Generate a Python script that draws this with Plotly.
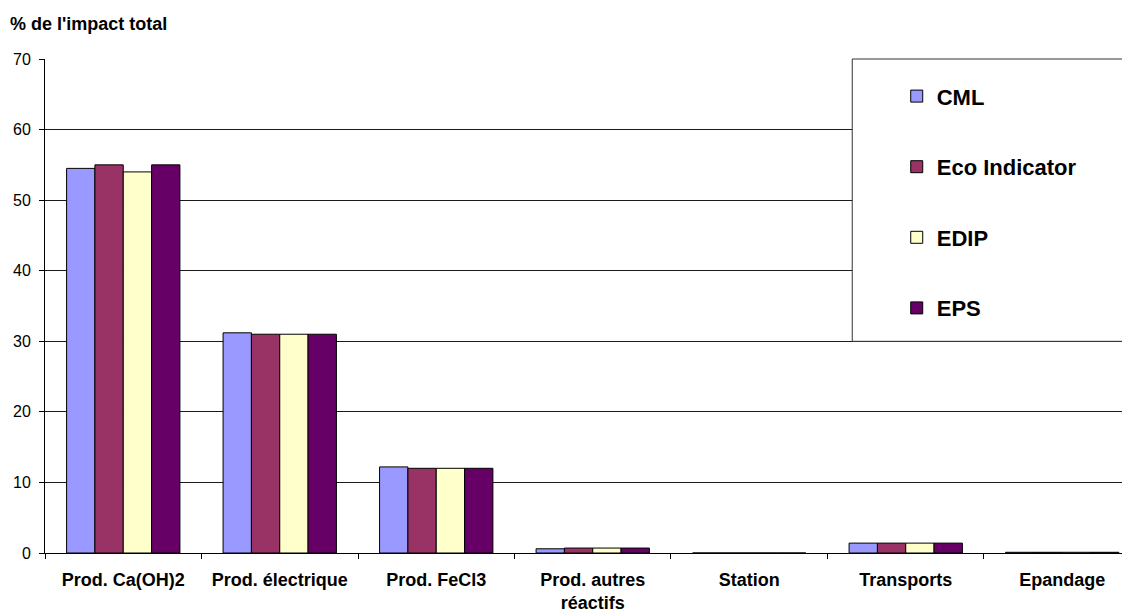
import plotly.graph_objects as go

categories = ["Prod. Ca(OH)2", "Prod. électrique", "Prod. FeCl3", "Prod. autres<br>réactifs",
              "Station", "Transports", "Epandage"]
series_names = ["CML", "Eco Indicator", "EDIP", "EPS"]
cml = [54.5, 31.2, 12.2, 0.6, 0.0, 1.4, 0.1]
eco = [55.0, 31.0, 12.0, 0.7, 0.0, 1.4, 0.1]
edip = [54.0, 31.0, 12.0, 0.7, 0.0, 1.4, 0.1]
eps = [55.0, 31.0, 12.0, 0.7, 0.0, 1.4, 0.1]
colors = ["#9999FF", "#993366", "#FFFFCC", "#660066"]
y_ticks = [0, 10, 20, 30, 40, 50, 60, 70]

FONT = "Liberation Sans, Arial, sans-serif"

fig = go.Figure()
for i, (name, vals) in enumerate(zip(series_names, [cml, eco, edip, eps])):
    fig.add_trace(go.Bar(
        x=categories, y=vals, name=name, legendgroup=name,
        marker=dict(color=colors[i], line=dict(color="#000000", width=1)),
    ))

# page body has an 8px margin: figure is sized/positioned to compensate
fig.update_layout(
    width=1122, height=604,
    margin=dict(l=37, r=0, t=51, b=59, autoexpand=False),
    paper_bgcolor="white", plot_bgcolor="white",
    font=dict(family=FONT, color="#000000"),
    barmode="group", bargap=0.276, bargroupgap=0,
    showlegend=True,
    legend=dict(x=0.785, y=0.967, xanchor="left", yanchor="top",
                bgcolor="rgba(0,0,0,0)", borderwidth=0,
                traceorder="grouped", tracegroupgap=39,
                font=dict(size=22, family=FONT, weight="bold")),
    xaxis=dict(
        range=[-0.5, 6.433], type="category",
        showline=True, linecolor="#000000", linewidth=1,
        ticks="outside", tickson="boundaries", ticklen=5, tickcolor="#000000",
        tickfont=dict(size=18, weight="bold"), ticklabelstandoff=10,
        showgrid=False, fixedrange=True,
    ),
    yaxis=dict(
        range=[0, 70], tickvals=y_ticks,
        showline=True, linecolor="#000000", linewidth=1,
        ticks="outside", ticklen=5, tickcolor="#000000",
        tickfont=dict(size=16), ticklabelstandoff=5,
        showgrid=True, gridcolor="#1a1a1a", gridwidth=1,
        zeroline=False,
    ),
    shapes=[dict(type="rect", xref="paper", yref="paper",
                 x0=0.744, x1=1.05, y0=0.4285, y1=1.0,
                 fillcolor="white", line=dict(color="#333333", width=1), layer="above")],
    annotations=[dict(text="<b>% de l'impact total</b>", xref="paper", yref="paper",
                      x=-0.034, y=1.07, xanchor="left", yanchor="middle",
                      showarrow=False, font=dict(size=18))],
)

fig.write_html("out.html")
